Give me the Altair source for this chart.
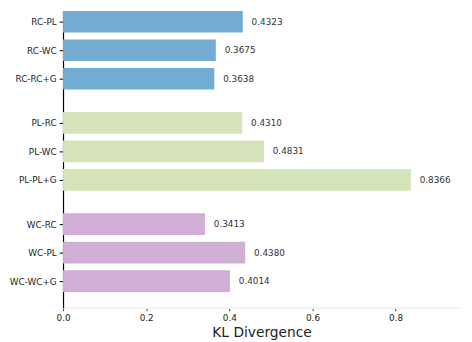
import altair as alt
import pandas as pd

labels = ["RC-PL", "RC-WC", "RC-RC+G", "PL-RC", "PL-WC", "PL-PL+G", "WC-RC", "WC-PL", "WC-WC+G"]
values = [0.4323, 0.3675, 0.3638, 0.4310, 0.4831, 0.8366, 0.3413, 0.4380, 0.4014]
groups = ["RC", "RC", "RC", "PL", "PL", "PL", "WC", "WC", "WC"]
slots = [0, 1, 2, 3.55, 4.55, 5.55, 7.1, 8.1, 9.1]
group_names = ["RC", "PL", "WC"]
group_colors = ["#73acd3", "#d5e4b9", "#d0aed5"]
x_ticks = [0.0, 0.2, 0.4, 0.6, 0.8]

df = pd.DataFrame({"label": labels, "value": values, "group": groups, "slot": slots})
df["txt"] = [f"{v:.4f}" for v in values]

expr = "''"
for s, l in reversed(list(zip(slots, labels))):
    expr = f"abs(datum.value - {s}) < 0.01 ? '{l}' : ({expr})"

FONT = "DejaVu Sans"

yscale = alt.Scale(domain=[-0.38, 10.03], reverse=True, nice=False, zero=False)
xscale = alt.Scale(domain=[0, 0.955], nice=False)

xaxis = alt.Axis(values=x_ticks, format=".1f", title="KL Divergence",
                 grid=False, domainColor="#eeeeee", domainWidth=1.5,
                 tickColor="#444444", tickSize=3, labelFontSize=9,
                 labelFont=FONT, labelColor="#222222", titleFont=FONT,
                 titleFontSize=14, titleFontWeight="normal",
                 titleColor="#222222", titlePadding=3, labelPadding=3,
                 labelFlush=False, labelOverlap=False)
yaxis = alt.Axis(values=slots, labelExpr=expr, title=None, grid=False,
                 domainColor="#000000", domainWidth=1.2,
                 tickColor="#000000", tickSize=4, labelFontSize=9,
                 labelFont=FONT, labelColor="#222222", labelPadding=3,
                 labelOverlap=False, labelFlush=False, labelBound=False)

base = alt.Chart(df)

bars = base.transform_calculate(
    lo="datum.slot - 0.38", hi="datum.slot + 0.38"
).mark_rect().encode(
    x=alt.X("value:Q", scale=xscale, axis=xaxis),
    x2=alt.value(0),
    y=alt.Y("lo:Q", scale=yscale, axis=yaxis),
    y2="hi:Q",
    color=alt.Color("group:N", scale=alt.Scale(domain=group_names, range=group_colors),
                    legend=None),
)

texts = base.mark_text(align="left", baseline="middle", dx=9, fontSize=9,
                       font=FONT, color="#333333").encode(
    x=alt.X("value:Q", scale=xscale, axis=xaxis),
    y=alt.Y("slot:Q", scale=yscale, axis=yaxis),
    text="txt:N",
)

chart = alt.layer(bars, texts).properties(
    width=404, height=302,
    autosize=alt.AutoSizeParams(type="none"),
    padding={"left": 56, "top": 0, "right": 4, "bottom": 32},
).configure_view(stroke=None)

chart.save("out.html", embed_options={"renderer": "svg", "actions": False})
